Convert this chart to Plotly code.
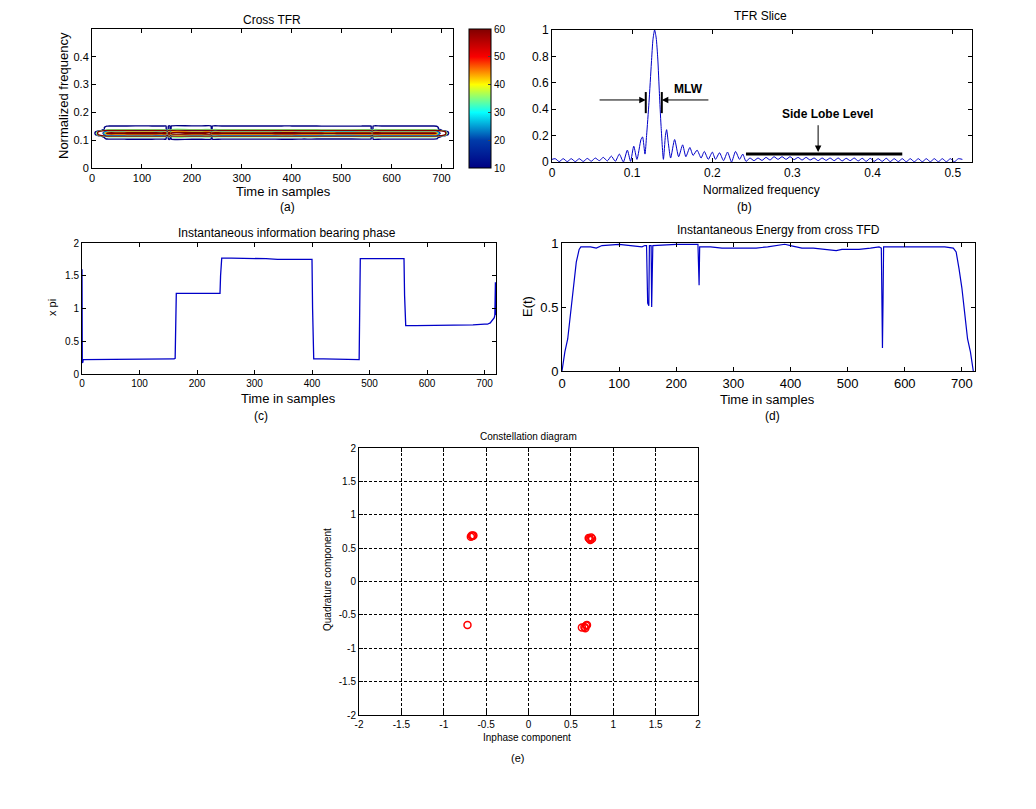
import plotly.graph_objects as go

W, H = 1036, 809
OFF = 8  # page body margin of the browser

# ---------------- data ----------------
# (d) instantaneous energy
energy_t = [0, 5, 10, 15, 20, 25, 30, 33, 50, 60, 70, 100, 120, 140, 145, 148, 149, 150, 152, 153,
            156, 157, 158, 159, 200, 220, 238, 239, 240, 241, 260, 280, 300, 320, 340, 360, 380, 390,
            400, 420, 440, 460, 480, 490, 520, 540, 555, 559, 560, 561, 562, 563, 580, 600, 640, 670,
            685, 690, 695, 700, 705, 710, 715, 720]
energy_v = [0.0, 0.15, 0.25, 0.45, 0.65, 0.85, 0.95, 0.97, 0.97, 0.96, 0.98, 0.99, 0.98, 0.97, 0.98, 0.98,
            0.75, 0.53, 0.51, 0.98, 0.98, 0.50, 0.75, 0.98, 0.99, 0.99, 0.99, 0.83, 0.67, 0.97, 0.97, 0.96,
            0.96, 0.96, 0.96, 0.97, 0.98, 0.99, 0.98, 0.96, 0.96, 0.95, 0.94, 0.95, 0.95, 0.96, 0.97, 0.96,
            0.18, 0.18, 0.55, 0.97, 0.97, 0.97, 0.97, 0.97, 0.96, 0.93, 0.80, 0.65, 0.45, 0.25, 0.15, 0.0]

# (a) cross TFR: frequency profile across the band (scaled by energy over time)
tfr_freq = [0.095, 0.100, 0.105, 0.110, 0.115, 0.120, 0.125, 0.130, 0.135, 0.140, 0.145, 0.150, 0.155, 0.160]
tfr_profile = [0, 8, 11, 12, 17, 52, 60, 52, 17, 12, 12, 11, 8, 0]

# (b) TFR slice
slice_f = [0.000, 0.004, 0.009, 0.014, 0.019, 0.024, 0.029, 0.034, 0.039, 0.044, 0.049, 0.054, 0.059,
           0.064, 0.069, 0.074, 0.079, 0.084, 0.089, 0.094, 0.098, 0.102, 0.106, 0.111, 0.113, 0.116,
           0.118, 0.121, 0.124, 0.126, 0.128, 0.130, 0.132, 0.134, 0.136, 0.139, 0.1415, 0.143, 0.145,
           0.148, 0.153, 0.158, 0.163, 0.167, 0.172, 0.176, 0.181, 0.186, 0.190, 0.195, 0.200, 0.204,
           0.209, 0.214, 0.219, 0.224, 0.229, 0.234, 0.238, 0.242, 0.247, 0.252, 0.257, 0.262, 0.267,
           0.272, 0.277, 0.282, 0.287, 0.292, 0.297, 0.302, 0.307, 0.312, 0.317, 0.322, 0.327, 0.332,
           0.337, 0.342, 0.347, 0.352, 0.357, 0.362, 0.367, 0.372, 0.377, 0.382, 0.387, 0.392, 0.397,
           0.402, 0.407, 0.412, 0.417, 0.422, 0.427, 0.432, 0.437, 0.442, 0.447, 0.452, 0.457, 0.462,
           0.467, 0.472, 0.477, 0.482, 0.487, 0.492, 0.497, 0.502, 0.507, 0.512]
slice_v = [0.020, 0.025, 0.003, 0.025, 0.003, 0.025, 0.003, 0.025, 0.004, 0.027, 0.006, 0.030, 0.010,
           0.035, 0.008, 0.045, 0.005, 0.060, 0.000, 0.090, 0.005, 0.120, 0.020, 0.170, 0.190, 0.060,
           0.200, 0.450, 0.750, 0.930, 1.000, 0.940, 0.780, 0.520, 0.280, 0.020, 0.200, 0.245, 0.150,
           0.030, 0.170, 0.040, 0.130, 0.040, 0.110, 0.050, 0.090, 0.030, 0.080, 0.020, 0.075, 0.020,
           0.070, 0.010, 0.075, 0.000, 0.080, 0.020, 0.060, 0.005, 0.030, 0.010, 0.030, 0.012, 0.035,
           0.015, 0.040, 0.020, 0.040, 0.020, 0.040, 0.018, 0.035, 0.015, 0.035, 0.015, 0.030, 0.010,
           0.030, 0.012, 0.030, 0.010, 0.030, 0.008, 0.028, 0.010, 0.030, 0.008, 0.028, 0.005, 0.028,
           0.005, 0.025, 0.005, 0.028, 0.003, 0.025, 0.003, 0.025, 0.002, 0.025, 0.002, 0.025, 0.002,
           0.025, 0.002, 0.025, 0.002, 0.025, 0.002, 0.025, 0.002, 0.025, 0.020]

# (c) instantaneous phase (x pi)
phase_t = [0, 0.5, 1, 1.5, 2, 3, 20, 40, 60, 80, 100, 120, 140, 160, 162, 163, 164, 180, 200, 220, 240,
           241, 242, 243, 260, 280, 300, 320, 340, 360, 380, 400, 401, 402, 403, 420, 440, 460, 480,
           482, 483, 484, 500, 520, 540, 560, 561, 562, 563, 580, 600, 620, 640, 660, 680, 700, 705,
           710, 714, 717, 718, 719, 719.5, 720]
phase_v = [1.60, 0.17, 0.88, 0.18, 0.22, 0.22, 0.23, 0.22, 0.23, 0.23, 0.23, 0.23, 0.23, 0.23, 0.24,
           0.70, 1.23, 1.23, 1.23, 1.23, 1.23, 1.50, 1.77, 1.77, 1.77, 1.77, 1.77, 1.76, 1.75, 1.75,
           1.75, 1.75, 1.00, 0.24, 0.23, 0.23, 0.23, 0.23, 0.22, 0.22, 1.00, 1.76, 1.76, 1.76, 1.76, 1.76,
           1.20, 0.74, 0.74, 0.74, 0.74, 0.74, 0.75, 0.75, 0.75, 0.76, 0.76, 0.78, 0.82, 0.86, 0.90,
           1.40, 0.90, 1.40]

# (e) constellation
const_i = [-0.67, -0.66, -0.68, -0.65, 0.72, 0.74, 0.73, 0.75, 0.71, -0.72, 0.66, 0.68, 0.69, 0.63, 0.67]
const_q = [0.69, 0.68, 0.67, 0.69, 0.64, 0.66, 0.62, 0.64, 0.65, -0.65, -0.68, -0.66, -0.65, -0.69, -0.70]

# ---------------- helpers ----------------
def px(x):
    return (x - OFF) / W


def py(y):
    return 1 - (y - OFF) / H


FONT = "Liberation Sans, Arial, Helvetica, sans-serif"
BLUE = "#0000C8"

fig = go.Figure()

# (a) contour: outer (blue) levels and core (red) levels
z = [[e * p for e in energy_v] for p in tfr_profile]
for lo, hi in [(10, 18), (44, 58)]:
    fig.add_trace(go.Contour(
        x=energy_t, y=tfr_freq, z=z, xaxis="x", yaxis="y",
        contours=dict(coloring="lines", start=lo, end=hi, size=4),
        colorscale="Jet", zmin=10, zmax=60, line=dict(width=1.4), showscale=False,
        hoverinfo="skip"))
# colorbar carrier
fig.add_trace(go.Scatter(
    x=[None, None], y=[None, None], xaxis="x", yaxis="y", mode="markers",
    marker=dict(color=[10, 60], cmin=10, cmax=60, colorscale="Jet", showscale=True,
                colorbar=dict(x=px(469), xanchor="left", xpad=0, ypad=0,
                              y=py((29 + 168) / 2), yanchor="middle",
                              len=139, lenmode="pixels", thickness=22, thicknessmode="pixels",
                              outlinewidth=1, outlinecolor="black",
                              tickvals=[10, 20, 30, 40, 50, 60], ticks="inside", ticklen=3,
                              tickfont=dict(size=10, family=FONT, color="black"))),
    showlegend=False, hoverinfo="skip"))

# (b) slice
fig.add_trace(go.Scatter(x=slice_f, y=slice_v, xaxis="x2", yaxis="y2", mode="lines",
                         line=dict(color=BLUE, width=1, shape="spline", smoothing=0.6),
                         showlegend=False))
# (c) phase
fig.add_trace(go.Scatter(x=phase_t, y=phase_v, xaxis="x3", yaxis="y3", mode="lines",
                         line=dict(color=BLUE, width=1.3), showlegend=False))
# (d) energy
fig.add_trace(go.Scatter(x=energy_t, y=energy_v, xaxis="x4", yaxis="y4", mode="lines",
                         line=dict(color=BLUE, width=1.2), showlegend=False))
# (e) constellation
fig.add_trace(go.Scatter(x=const_i, y=const_q, xaxis="x5", yaxis="y5", mode="markers",
                         marker=dict(symbol="circle-open", color="red", size=7, line=dict(width=1.5)),
                         showlegend=False))


def ax(domain, rng, tickvals, anchor, ticktext=None, size=11, grid=False):
    d = dict(domain=domain, range=rng, tickvals=tickvals, anchor=anchor, showline=True, mirror="ticks",
             linecolor="black", linewidth=1, ticks="inside", ticklen=4, tickcolor="black",
             zeroline=False, showgrid=grid, fixedrange=True, automargin=False,
             tickfont=dict(size=size, family=FONT, color="black"))
    if ticktext is not None:
        d["ticktext"] = ticktext
    if grid:
        d.update(gridcolor="black", griddash="3px,2px", gridwidth=1)
    return d


t100 = [0, 100, 200, 300, 400, 500, 600, 700]
e_ticks = [-2, -1.5, -1, -0.5, 0, 0.5, 1, 1.5, 2]
e_text = ["-2", "-1.5", "-1", "-0.5", "0", "0.5", "1", "1.5", "2"]

fig.update_layout(
    width=W, height=H, margin=dict(l=0, r=0, t=0, b=0, pad=0, autoexpand=False),
    paper_bgcolor="white", plot_bgcolor="white",
    font=dict(family=FONT, color="black"),
    xaxis=ax([px(92), px(453)], [0, 723], t100, "y", size=11),
    yaxis=ax([py(168), py(29)], [0, 0.5], [0, 0.1, 0.2, 0.3, 0.4], "x", size=11),
    xaxis2=ax([px(552), px(972)], [0, 0.524], [0, 0.1, 0.2, 0.3, 0.4, 0.5], "y2", size=12),
    yaxis2=ax([py(162), py(30)], [0, 1], [0, 0.2, 0.4, 0.6, 0.8, 1], "x2", size=12),
    xaxis3=ax([px(82), px(496)], [0, 720], t100, "y3", size=10),
    yaxis3=ax([py(374), py(243)], [0, 2], [0, 0.5, 1, 1.5, 2], "x3", size=10),
    xaxis4=ax([px(562), px(975)], [0, 723], t100, "y4", size=13),
    yaxis4=ax([py(371), py(243)], [0, 1], [0, 0.5, 1], "x4", size=13),
    xaxis5=ax([px(359), px(698)], [-2, 2], e_ticks, "y5", e_text, size=10, grid=True),
    yaxis5=ax([py(715), py(448)], [-2, 2], e_ticks, "x5", e_text, size=10, grid=True),
)

annots = []


def txt(x, y, s, size, angle=0, bold=False):
    annots.append(dict(x=px(x), y=py(y), xref="paper", yref="paper", text=("<b>%s</b>" % s) if bold else s,
                       showarrow=False, textangle=angle, xanchor="center", yanchor="middle",
                       font=dict(size=size, family=FONT, color="black")))


# panel texts
txt(272, 20, "Cross TFR", 12)
txt(63, 96, "Normalized frequency", 13, -90)
txt(283, 191, "Time in samples", 13)
txt(287, 207, "(a)", 12)
txt(760, 16, "TFR Slice", 12)
txt(761, 190, "Normalized frequency", 12)
txt(744, 207, "(b)", 12)
txt(287, 233, "Instantaneous information bearing phase", 12)
txt(52, 308, "x pi", 11, -90)
txt(288, 398, "Time in samples", 13)
txt(261, 416, "(c)", 12)
txt(778, 230, "Instantaneous Energy from cross TFD", 12)
txt(528, 307, "E(t)", 13, -90)
txt(767, 399, "Time in samples", 13)
txt(772, 416, "(d)", 12)
txt(528, 437, "Constellation diagram", 10)
txt(527, 737, "Inphase component", 10)
txt(327, 580, "Quadrature component", 10, -90)
txt(517, 758, "(e)", 11)

# (b) annotations: MLW and side lobe level
mlw_left, mlw_right, mlw_y = 0.117, 0.137, 0.47
annots.append(dict(x=mlw_left, y=mlw_y, ax=0.0575, ay=mlw_y, xref="x2", yref="y2", axref="x2", ayref="y2",
                   showarrow=True, arrowhead=2, arrowsize=1.3, arrowwidth=1, arrowcolor="black", text=""))
annots.append(dict(x=mlw_right, y=mlw_y, ax=0.197, ay=mlw_y, xref="x2", yref="y2", axref="x2", ayref="y2",
                   showarrow=True, arrowhead=2, arrowsize=1.3, arrowwidth=1, arrowcolor="black", text=""))
annots.append(dict(x=0.17, y=0.555, xref="x2", yref="y2", text="<b>MLW</b>", showarrow=False,
                   font=dict(size=12, family=FONT, color="black")))
annots.append(dict(x=0.332, y=0.075, ax=0.332, ay=0.29, xref="x2", yref="y2", axref="x2", ayref="y2",
                   showarrow=True, arrowhead=2, arrowsize=1.3, arrowwidth=1, arrowcolor="black", text=""))
annots.append(dict(x=0.344, y=0.36, xref="x2", yref="y2", text="<b>Side Lobe Level</b>", showarrow=False,
                   font=dict(size=12, family=FONT, color="black")))

shapes = [
    dict(type="line", xref="x2", yref="y2", x0=mlw_left, x1=mlw_left, y0=0.37, y1=0.53,
         line=dict(color="black", width=2)),
    dict(type="line", xref="x2", yref="y2", x0=mlw_right, x1=mlw_right, y0=0.37, y1=0.53,
         line=dict(color="black", width=2)),
    dict(type="line", xref="x2", yref="y2", x0=0.242, x1=0.437, y0=0.06, y1=0.06,
         line=dict(color="black", width=3)),
]

fig.update_layout(annotations=annots, shapes=shapes)
fig.write_html("out.html")
